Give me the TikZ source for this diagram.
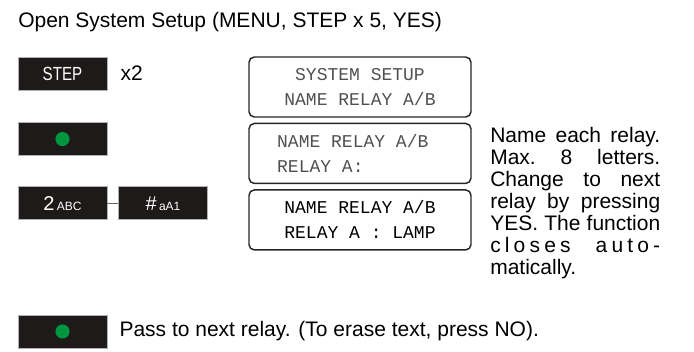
\documentclass[tikz,border=0pt]{standalone}
\usepackage{fontspec}
\setmainfont{Liberation Sans}
\newfontfamily\lcdfont{Liberation Mono}
\usetikzlibrary{positioning}

\definecolor{keyblack}{RGB}{30,26,25}
\definecolor{ledgreen}{RGB}{0,150,64}
\definecolor{lcdgrey}{RGB}{80,80,80}

\newcommand{\txtsize}{\fontsize{15.75pt}{16.5pt}\selectfont}
\newcommand{\jline}[1]{\leavevmode\hbox to 127.5pt{#1}}

\begin{document}
\begin{tikzpicture}[x=0.75pt, y=-0.75pt, inner sep=0pt,
  key/.style={fill=keyblack, draw=black!30, line width=0.4pt,
    minimum width=66.75pt, minimum height=24.75pt, text=white},
  lcd/.style={draw=black!85, line width=1.1pt, rounded corners=4pt,
    minimum width=166.5pt, minimum height=45pt, align=left,
    font=\lcdfont\fontsize{13.5pt}{18.75pt}\selectfont},
  txt/.style={font=\txtsize}]
\useasboundingbox (0,0) rectangle (694,351);

\node [txt, anchor=base west] (title) at (18,27.5) {Open System Setup (MENU, STEP x 5, YES)};

% keys
\node [key] (step) at (62.5,73.5) {\fontsize{14.25pt}{14.25pt}\selectfont\scalebox{0.8}[1]{STEP}};
\node [txt, anchor=west] (times) [right = 9.75pt of step] {x2};
\node [key] (ok1) [below = 24pt of step] {};
\node [key] (num2) [below = 23pt of ok1] {{\fontsize{15pt}{15pt}\selectfont 2}\,{\fontsize{9pt}{9pt}\selectfont ABC}};
\node [key] (hash) [right = 8.25pt of num2] {{\fontsize{15pt}{15pt}\selectfont \#}\,{\fontsize{9pt}{9pt}\selectfont aA1}\hspace{5pt}};
\draw [black!60, line width=1pt] (num2) -- (hash);
\fill [ledgreen] (ok1) circle (5.3pt);

% display
\node [lcd, text=lcdgrey] (lcd1) at (360,87) {\hphantom{S}SYSTEM SETUP\\NAME RELAY A/B};
\node [lcd, text=lcdgrey] (lcd2) [below = 3.75pt of lcd1] {NAME RELAY A/B\\RELAY A:\hphantom{ : LAMP}};
\node [lcd, text=black] (lcd3) [below = 3.75pt of lcd2] {NAME RELAY A/B\\RELAY A : LAMP};

\node [txt, anchor=north west, text width=127.5pt, align=left] (note) at (490,127)
  {\jline{Name\hfill each\hfill relay.}\\
   \jline{Max.\hfill 8\hfill letters.}\\
   \jline{Change\hfill to\hfill next}\\
   \jline{relay\hfill by\hfill pressing}\\
   \jline{YES.\hfill The\hfill function}\\
   \jline{c\hfill l\hfill o\hfill s\hfill e\hfill s\hfill\hspace{0.8em}\hfill a\hfill u\hfill t\hfill o\hfill -}\\
   matically.};

% next relay
\node [key] (ok2) at (62.5,331.5) {};
\fill [ledgreen] (ok2) circle (5.3pt);
\node [txt, anchor=west] (pass) [right = 9pt of ok2] {Pass to next relay. (To erase text, press NO).};
\end{tikzpicture}
\end{document}
